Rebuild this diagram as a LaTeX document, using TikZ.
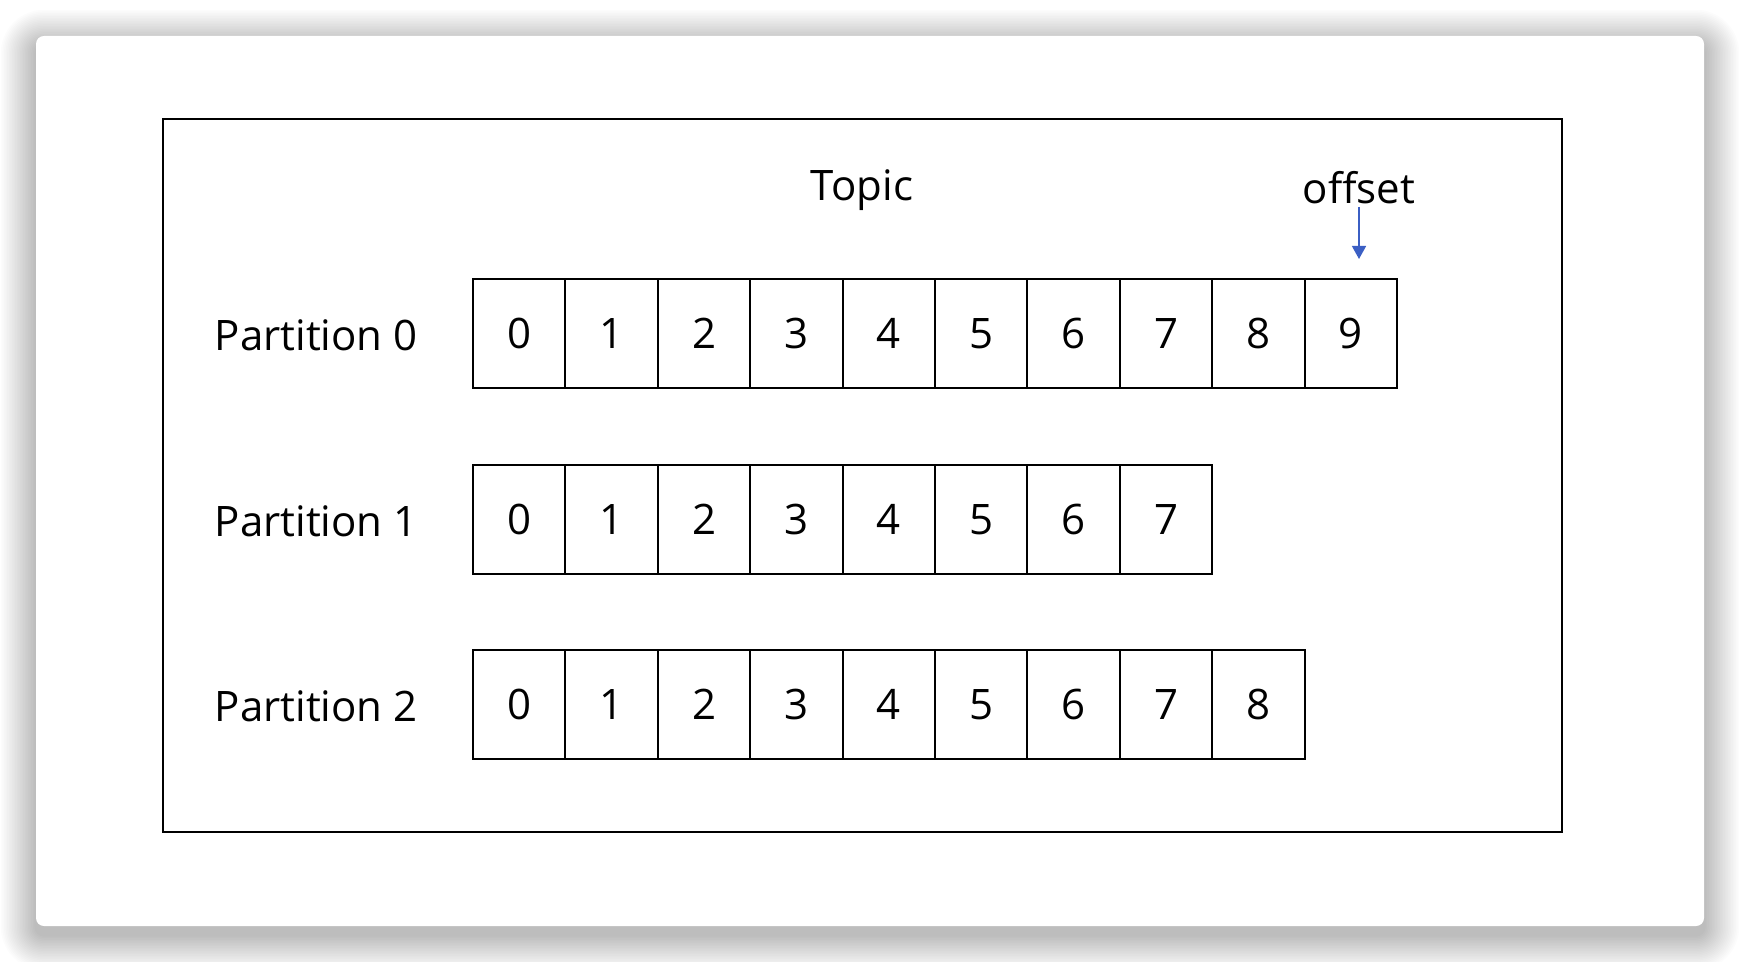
\documentclass[tikz,border=0pt]{standalone}
\usepackage{fontspec}
\setmainfont{Open Sans}
\usetikzlibrary{arrows.meta}
\usetikzlibrary{positioning}

\definecolor{offsetblue}{HTML}{3B5FC4}

\tikzset{
  cell/.style={draw, line width=1pt, minimum width=46.2pt, minimum height=54.5pt,
    inner sep=0pt, outer sep=0pt, font=\fontsize{21}{21}\selectfont},
  part/.style={inner sep=0pt, anchor=east, font=\fontsize{21}{21}\selectfont},
  title/.style={inner sep=0pt, font=\fontsize{21}{21}\selectfont},
}

\begin{document}
\begin{tikzpicture}[x=0.5pt,y=-0.5pt]
\useasboundingbox[fill=white] (0,0) rectangle (1740,962);
% card with its shadow
\foreach \k [evaluate=\k as \r using 4+0.8*\k] in {1,...,22}
  \fill[black, opacity=0.01, rounded corners=\r pt]
    (36-1.6*\k,36-1.6*\k+9) rectangle (1704+1.6*\k,926+1.6*\k+9);
\fill[white, rounded corners=4pt] (36,36) rectangle (1704,926);
\draw[line width=1pt] (163,119) rectangle (1562,832);

\node[title] (topic) at (862,190) {Topic};
\node[title] (offset) at (1359,188) {offset};

% partitions
\foreach \row/\n/\y in {0/9/335.5, 1/7/521.5, 2/8/706.5} {
  \node[part] (p\row) at (418,\y) {Partition \row};
  \node[cell] (p\row c0) at (519.2,\y-2) {0};
  \foreach \i [count=\j from 0] in {1,...,\n}
    \node[cell, right=0pt of p\row c\j] (p\row c\i) {\i};
}

\draw[offsetblue, line width=0.7pt, -{Triangle[length=6.5pt,width=7pt]}, shorten >=10pt]
  (offset.south |- 0,207) -- (offset.south |- p0c9.north);
\end{tikzpicture}
\end{document}
